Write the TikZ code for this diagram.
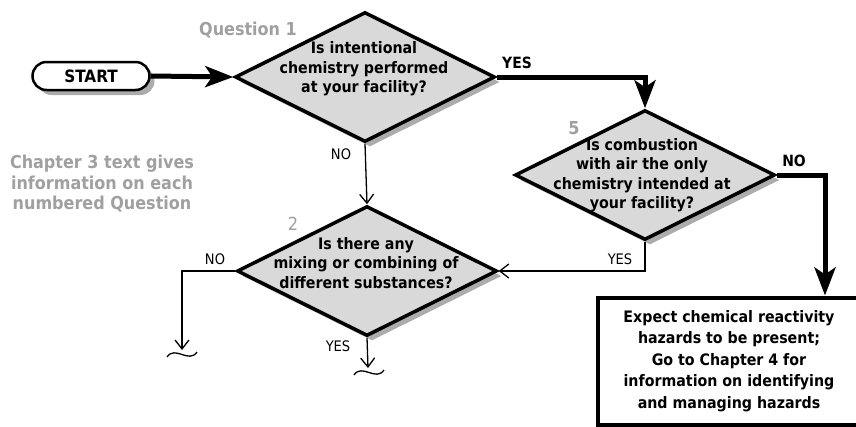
\documentclass[tikz,border=0pt]{standalone}
\usepackage{fontspec}
\setmainfont{DejaVu Sans Condensed}
\usetikzlibrary{shapes.geometric,shadows,arrows.meta}
\definecolor{notegray}{RGB}{160,160,160}
\definecolor{askfill}{RGB}{217,217,217}
\definecolor{askshade}{RGB}{172,172,172}
\begin{document}
\begin{tikzpicture}[x=1pt,y=-1pt,
    shade/.style={drop shadow={shadow xshift=5pt,shadow yshift=-5pt,fill=askshade,opacity=1}},
    question/.style={diamond,aspect=2,draw,line width=3.5pt,fill=askfill,shade,
      minimum width=260pt,minimum height=130pt,inner sep=0pt},
    asktext/.style={font=\bfseries\fontsize{15.8}{19.5}\selectfont,align=center},
    startbox/.style={draw,line width=2.5pt,rounded corners=14pt,fill=white,shade,
      minimum width=117pt,minimum height=28pt,font=\bfseries\fontsize{17}{19}\selectfont},
    resultbox/.style={draw,line width=4pt,fill=white,minimum width=263pt,minimum height=127pt,
      font=\bfseries\fontsize{15.8}{21.5}\selectfont,align=center},
    note/.style={text=notegray,font=\bfseries\fontsize{17.8}{20.5}\selectfont,align=center},
    bold/.style={font=\bfseries\fontsize{15.5}{17}\selectfont},
    thin/.style={font=\fontsize{14.5}{16}\selectfont},
    mainflow/.style={line width=5pt,-{Stealth[length=28pt,width=21pt,inset=7pt]}},
    flow/.style={line width=1.3pt,-{Straight Barb[length=9pt,width=14pt]}},
    squiggle/.style={line width=1.3pt}]
  \useasboundingbox (0,0) rectangle (856,426);

  \node[startbox] (start) at (91,76) {START};
  \node[question] (d1) at (365,77) {};
  \node[asktext] (d1text) at (364,69) {Is intentional\\chemistry performed\\at your facility?};
  \node[question] (d5) at (645,175) {};
  \node[asktext] (d5text) at (642,175) {Is combustion\\with air the only\\chemistry intended at\\your facility?};
  \node[question] (d2) at (367,271) {};
  \node[asktext] (d2text) at (366,263) {Is there any\\mixing or combining of\\different substances?};
  \node[resultbox] (box) at (729,361) {Expect chemical reactivity\\hazards to be present;\\Go to Chapter 4 for\\information on identifying\\and managing hazards};

  \node[note] (q1) at (248,30) {Question 1};
  \node[note] (q5) at (574,128) {5};
  \node[text=notegray,font=\fontsize{18}{20}\selectfont] (q2) at (293,224) {2};
  \node[note] (info) at (102,184) {Chapter 3 text gives\\information on each\\numbered Question};

  \draw[mainflow] (start.east) -- (d1.west);
  \draw[mainflow] (d1.east) -| (d5.north);
  \node[bold] (yes1) at (517,63) {YES};
  \draw[mainflow] (d5.east) -| (box.north -| 825,0);
  \node[bold] (no5) at (794,161) {NO};
  \draw[flow] (d1.south) -- (d2.north);
  \node[thin] (no1) at (341,154) {NO};
  \draw[flow] (d5.south) |- (d2.east);
  \node[thin] (yes5) at (620,259) {YES};

  \coordinate (noend) at (182,350);
  \coordinate (yesend) at (368,368);
  \draw[flow] (d2.west) -| (noend);
  \node[thin] (no2) at (215,259) {NO};
  \draw[flow] (d2.south) -- (yesend);
  \node[thin] (yes2) at (338,346) {YES};
  \draw[squiggle] (noend) ++(-15,7) .. controls +(8,-12) and +(-8,12) .. ++(30,-5);
  \draw[squiggle] (yesend) ++(-14,7) .. controls +(8,-12) and +(-8,12) .. ++(30,-5);
\end{tikzpicture}
\end{document}
